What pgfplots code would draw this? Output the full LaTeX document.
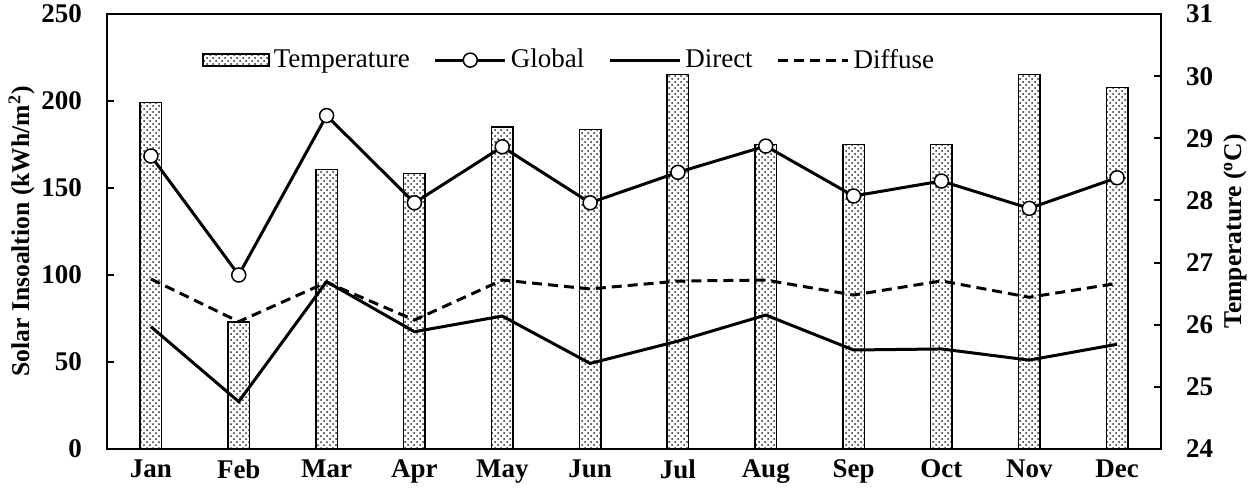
\documentclass[border=0pt]{standalone}
\usepackage{fontspec}
\setmainfont{Liberation Serif}
\usepackage{pgfplots}
\pgfplotsset{compat=1.18}
\usetikzlibrary{patterns}
\pgfplotsset{
  barlegend/.style={legend image code/.code={\draw[##1] (0pt,-3pt) rectangle (33pt,3pt);}},
  linelegend/.style={legend image code/.code={\draw[mark repeat=2,mark phase=2,##1] plot coordinates {(0pt,0pt) (17.5pt,0pt) (35pt,0pt)};}},
}
\begin{document}
\begin{tikzpicture}[font=\fontsize{13.5}{16}\selectfont]
\useasboundingbox (-53.5pt,-25pt) rectangle (574.5pt,224.5pt);
\pgfplotsset{
  every axis/.append style={
    scale only axis, width=527pt, height=217.5pt,
    xmin=-0.5, xmax=11.5,
    /pgf/number format/assume math mode=true,
    tick label style={font=\fontsize{13.5}{16}\selectfont\bfseries},
    label style={font=\fontsize{12.8}{15}\selectfont\bfseries},
    axis line style={line width=1pt},
    tick style={line width=1pt, black},
    major tick length=3.5pt,
    tick align=inside,
  }
}
% right axis: temperature bars
\begin{axis}[
  axis y line*=right, axis x line=none,
  ymin=24, ymax=31, ytick={24,25,...,31},
  yticklabel shift=9pt,
  ylabel={Temperature (\textsuperscript{o}C)},
  ylabel style={at={(axis description cs:1.0702,0.5)}, anchor=center},
]
\addplot[ybar, bar width=10.8pt, draw=black, line width=0.75pt, fill=white,
  postaction={pattern=crosshatch dots, pattern color=black!85}] coordinates {
(0,29.58) (1,26.04) (2,28.5) (3,28.43) (4,29.18) (5,29.14)
(6,30.03) (7,28.9) (8,28.9) (9,28.9) (10,30.03) (11,29.82)};
\end{axis}
% left axis: insolation lines
\begin{axis}[
  ymin=0, ymax=250, ytick={0,50,...,250}, ytick pos=left,
  yticklabel shift=9pt,
  xtick={0,...,11},
  xticklabels={Jan,Feb,Mar,Apr,May,Jun,Jul,Aug,Sep,Oct,Nov,Dec},
  xtick style={draw=none}, xticklabel shift=2pt,
  ylabel={Solar Insoaltion (kWh/m\textsuperscript{2})},
  ylabel style={at={(axis description cs:-0.0811,0.5)}, anchor=center},
  legend style={at={(0.09,0.894)}, anchor=west, draw=none, fill=none,
    legend columns=-1, font=\fontsize{13.5}{16}\selectfont,
    inner sep=0pt, nodes={inner sep=2pt},
    /tikz/every even column/.append style={column sep=10pt}},
  linelegend,
]
\addlegendimage{barlegend, draw=black, line width=0.75pt, fill=white,
  postaction={pattern=crosshatch dots, pattern color=black!85}}
\addlegendentry{Temperature}
\addplot[black, line width=1.5pt, mark=*, mark size=3.5pt, mark options={fill=white, line width=0.75pt}] coordinates {
(0,168.4) (1,100) (2,191.6) (3,141.5) (4,173.7) (5,141.5)
(6,159) (7,174.1) (8,145.4) (9,154) (10,138.3) (11,155.9)};
\addlegendentry{Global}
\addplot[black, line width=1.5pt] coordinates {
(0,70.3) (1,27.2) (2,96.2) (3,67.4) (4,76.4) (5,49.2)
(6,62) (7,77) (8,56.9) (9,57.5) (10,51.1) (11,60.2)};
\addlegendentry{Direct}
\addplot[black, line width=1.5pt, dash pattern=on 5pt off 3pt] coordinates {
(0,97.7) (1,73.2) (2,95.8) (3,74.1) (4,97.1) (5,92)
(6,96.5) (7,97.1) (8,88.5) (9,96.6) (10,87.2) (11,95.2)};
\addlegendentry{Diffuse}
\end{axis}
\end{tikzpicture}
\end{document}
